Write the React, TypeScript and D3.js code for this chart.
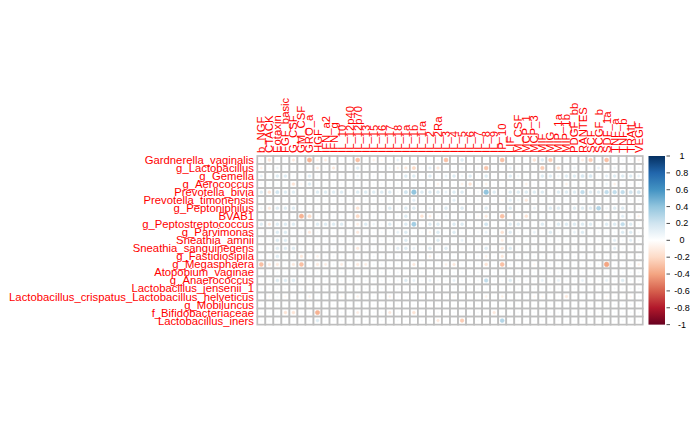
import React from "react";
import * as d3 from "d3";

// taxa (rows) and cytokines (columns)
const taxa = [
  "Gardnerella_vaginalis", "g_Lactobacillus", "g_Gemella", "g_Aerococcus",
  "Prevotella_bivia", "Prevotella_timonensis", "g_Peptoniphilus", "BVAB1",
  "g_Peptostreptococcus", "g_Parvimonas", "Sneathia_amnii", "Sneathia_sanguinegens",
  "g_Fastidiosipila", "g_Megasphaera", "Atopobium_vaginae", "g_Anaerococcus",
  "Lactobacillus_jensenii_1", "Lactobacillus_crispatus_Lactobacillus_helveticus",
  "g_Mobiluncus", "f_Bifidobacteriaceae", "Lactobacillus_iners",
];

const cytokines = [
  "b_NGF", "CTACK", "Eotaxin", "FGF_basic", "G_CSF", "GM_CSF", "GRO_a", "HGF",
  "IFN_a2", "IFN_g", "IL_10", "IL_12p40", "IL_12p70", "IL_13", "IL_15", "IL_16",
  "IL_17", "IL_18", "IL_1a", "IL_1b", "IL_1ra", "IL_2", "IL_2Ra", "IL_3",
  "IL_4", "IL_5", "IL_6", "IL_7", "IL_8", "IL_9", "IP_10", "LIF",
  "M_CSF", "MCP_1", "MCP_3", "MIF", "MIG", "MIP_1a", "MIP_1b", "PDGF_bb",
  "RANTES", "SCF", "SCGF_b", "SDF_1a", "TNF_a", "TNF_b", "TRAIL", "VEGF",
];

// correlation values, one row per taxon, 48 columns each
const corr: number[][] = [
  [0.05, -0.15, 0.05, 0.05, -0.12, 0.04, -0.35, -0.08, -0.1, 0.05, 0.05, 0.05,
   -0.3, 0.05, -0.08, -0.05, 0.05, 0.1, 0.05, 0.05, 0.05, 0.05, 0.05, -0.3,
   0.05, 0.15, 0.05, 0.05, 0.05, 0.05, -0.3, 0.05, 0.05, 0.05, -0.15, 0.15,
   -0.25, 0.05, 0.05, 0.05, -0.1, -0.25, 0.05, -0.3, 0.05, 0.05, 0.05, -0.08],
  [-0.08, 0.05, 0.08, 0.05, 0.05, 0.04, 0.05, -0.1, 0.05, -0.12, 0.05, 0.05,
   0.15, 0.05, 0.05, 0.05, 0.08, -0.08, -0.12, -0.2, 0.05, 0.12, -0.12, 0.05,
   0.05, 0.08, 0.05, 0.05, -0.28, 0.05, 0.05, 0.1, 0.05, 0.05, 0.05, -0.25,
   0.05, -0.15, 0.05, 0.08, 0.05, 0.05, 0.1, -0.05, 0.08, 0.05, 0.05, 0.05],
  [0.1, 0.05, 0.15, 0.15, 0.05, 0.05, 0.15, 0.05, 0.05, 0.05, 0.05, 0.05,
   0.08, 0.05, 0.05, 0.05, 0.05, 0.05, 0.15, 0.15, 0.05, 0.15, 0.05, 0.1,
   0.15, 0.08, 0.15, 0.05, 0.15, 0.05, 0.05, 0.15, 0.08, 0.05, 0.05, 0.15,
   0.15, 0.08, 0.15, 0.15, 0.18, 0.18, 0.05, 0.12, 0.15, 0.15, 0.15, 0.1],
  [0.05, 0.05, 0.05, 0.05, -0.15, -0.05, 0.15, 0.05, 0.05, 0.05, 0.05, 0.05,
   0.05, 0.05, 0.05, 0.05, 0.05, 0.05, 0.05, 0.05, 0.05, 0.05, -0.08, 0.05,
   0.05, -0.08, -0.15, 0.05, -0.08, 0.05, 0.05, 0.05, 0.05, -0.08, 0.05, 0.05,
   0.05, 0.05, -0.08, 0.05, 0.05, 0.05, 0.05, 0.08, -0.08, 0.05, 0.05, 0.05],
  [0.15, -0.15, 0.2, 0.15, 0.15, 0.05, 0.05, 0.15, 0.15, 0.15, 0.15, 0.05,
   0.15, 0.15, 0.15, 0.15, 0.15, 0.05, 0.2, 0.4, 0.15, 0.15, 0.15, 0.1,
   0.15, 0.15, 0.05, 0.05, 0.4, 0.15, 0.05, 0.15, 0.15, 0.15, 0.15, 0.15,
   0.05, 0.15, 0.15, 0.15, 0.25, 0.15, 0.15, 0.25, 0.25, 0.25, 0.2, 0.2],
  [0.05, 0.05, 0.05, 0.05, 0.05, 0.05, 0.05, 0.05, 0.05, 0.05, 0.05, 0.05,
   -0.05, 0.05, 0.05, 0.05, 0.05, 0.05, 0.05, 0.12, 0.05, 0.05, 0.05, 0.05,
   0.12, 0.05, 0.05, 0.05, 0.05, 0.05, -0.05, 0.12, 0.08, -0.12, 0.05, 0.05,
   0.05, 0.05, 0.05, 0.05, 0.05, 0.05, 0.05, 0.05, 0.05, 0.05, 0.05, 0.05],
  [0.08, -0.12, 0.15, 0.15, 0.15, 0.05, 0.05, 0.05, 0.05, 0.05, 0.05, 0.05,
   -0.15, 0.05, 0.05, 0.05, 0.15, 0.05, 0.15, 0.15, 0.05, 0.1, 0.05, 0.15,
   0.05, 0.15, 0.05, 0.05, 0.15, 0.05, 0.05, 0.15, 0.05, 0.05, 0.1, 0.05,
   0.15, 0.15, 0.05, 0.15, 0.15, 0.15, 0.3, 0.08, 0.15, 0.15, 0.05, 0.05],
  [0.05, 0.05, 0.05, 0.05, 0.05, -0.35, -0.2, 0.05, 0.05, 0.05, 0.05, 0.05,
   -0.2, 0.05, 0.05, 0.05, 0.05, 0.05, 0.15, 0.05, -0.15, -0.1, 0.05, 0.08,
   0.05, 0.05, 0.05, -0.05, -0.12, 0.05, -0.3, -0.05, 0.05, -0.15, 0.05, 0.05,
   0.05, 0.05, 0.05, 0.05, 0.05, 0.05, 0.05, -0.05, 0.05, 0.12, 0.05, -0.08],
  [0.15, -0.12, 0.15, 0.15, 0.15, 0.05, 0.05, 0.15, 0.15, 0.15, 0.15, 0.05,
   -0.1, 0.15, 0.08, 0.05, 0.15, 0.05, 0.15, 0.35, 0.05, 0.15, 0.15, 0.05,
   0.15, 0.15, 0.05, 0.05, 0.2, 0.05, 0.05, 0.15, 0.15, 0.05, 0.05, 0.15,
   0.05, 0.15, 0.15, 0.15, 0.15, 0.15, 0.05, 0.15, 0.15, 0.25, 0.15, 0.05],
  [0.05, 0.05, 0.15, 0.15, 0.05, 0.05, -0.12, 0.05, 0.05, 0.05, 0.05, 0.05,
   -0.12, 0.05, 0.05, 0.05, 0.05, 0.1, 0.15, 0.05, 0.05, -0.08, 0.15, 0.05,
   0.15, 0.05, 0.05, 0.05, 0.1, 0.05, -0.15, 0.15, 0.05, 0.05, 0.1, 0.05,
   0.15, 0.05, 0.05, 0.1, 0.15, 0.05, 0.05, 0.05, 0.05, 0.15, 0.15, 0.05],
  [0.05, 0.05, 0.15, 0.15, 0.05, 0.05, 0.05, 0.05, 0.05, 0.05, 0.05, 0.05,
   0.05, 0.05, 0.05, 0.05, 0.05, 0.05, 0.15, 0.05, 0.05, 0.05, 0.15, 0.05,
   0.05, 0.1, 0.05, 0.05, 0.05, 0.05, -0.1, 0.05, 0.05, 0.05, 0.05, 0.05,
   0.05, 0.05, 0.05, 0.05, 0.05, 0.05, 0.05, 0.05, 0.12, 0.05, 0.12, 0.05],
  [0.05, 0.05, 0.15, 0.15, 0.15, 0.05, 0.05, 0.05, 0.05, 0.05, 0.05, 0.05,
   -0.12, 0.05, 0.05, 0.05, 0.05, 0.12, 0.15, 0.1, 0.05, 0.15, 0.05, 0.15,
   0.05, 0.05, 0.05, 0.05, 0.15, 0.05, -0.12, 0.15, 0.05, 0.05, 0.05, 0.05,
   0.05, 0.05, 0.05, 0.05, 0.05, 0.05, 0.05, 0.05, 0.12, 0.05, 0.05, 0.05],
  [0.05, 0.05, 0.15, 0.05, 0.05, -0.12, 0.05, -0.08, 0.05, 0.05, 0.05, 0.05,
   0.05, 0.05, 0.05, 0.05, 0.05, 0.05, 0.05, 0.05, 0.05, -0.08, 0.05, 0.05,
   0.05, 0.05, 0.05, 0.05, -0.08, 0.05, -0.12, 0.05, 0.05, 0.05, 0.05, 0.05,
   0.05, 0.05, 0.05, 0.05, 0.05, 0.05, 0.05, 0.05, 0.05, 0.05, 0.05, 0.05],
  [-0.3, -0.12, -0.12, 0.05, -0.12, -0.3, 0.05, -0.12, -0.1, 0.05, -0.1, 0.05,
   -0.12, -0.1, 0.05, 0.05, 0.05, 0.05, 0.05, -0.12, 0.05, 0.05, 0.05, -0.08,
   -0.12, 0.05, 0.05, 0.05, -0.15, 0.05, -0.3, 0.05, 0.05, 0.05, -0.05, 0.05,
   0.05, 0.05, 0.05, 0.05, 0.05, 0.05, 0.05, -0.4, 0.05, 0.05, 0.05, -0.08],
  [0.05, 0.05, 0.05, 0.05, 0.05, 0.05, 0.05, 0.05, 0.05, 0.05, 0.05, 0.05,
   0.05, 0.05, 0.05, 0.05, 0.05, 0.05, 0.05, 0.05, 0.05, 0.05, 0.05, 0.05,
   0.05, 0.05, 0.05, 0.05, 0.05, 0.05, 0.05, 0.05, 0.05, 0.05, 0.05, 0.05,
   0.05, 0.05, 0.05, 0.05, 0.05, 0.05, 0.05, 0.05, 0.05, 0.05, 0.05, 0.05],
  [0.05, 0.05, 0.15, 0.15, 0.15, 0.05, 0.05, 0.05, 0.05, 0.05, 0.05, 0.05,
   0.05, 0.05, 0.05, 0.05, 0.05, 0.05, 0.15, 0.1, 0.05, 0.1, 0.05, 0.05,
   0.1, 0.05, 0.05, 0.05, 0.25, 0.05, 0.05, 0.15, 0.05, 0.05, 0.05, 0.1,
   0.05, 0.1, 0.05, 0.05, 0.1, 0.05, 0.05, 0.1, 0.05, 0.15, 0.05, 0.05],
  [0.05, 0.05, 0.05, 0.05, 0.05, 0.05, 0.05, 0.05, 0.05, 0.05, 0.05, 0.05,
   0.05, 0.05, 0.05, 0.05, 0.05, 0.05, 0.05, 0.05, 0.05, 0.05, 0.05, 0.05,
   0.05, 0.05, 0.05, 0.05, 0.05, 0.05, 0.05, 0.05, 0.05, 0.05, 0.05, 0.05,
   0.05, 0.05, 0.05, 0.05, 0.05, 0.05, 0.05, 0.05, 0.05, 0.05, 0.05, 0.05],
  [0.04, -0.05, 0.05, -0.05, 0.04, 0.04, -0.08, 0.04, 0.04, 0.04, -0.05, 0.04,
   -0.08, 0.04, 0.04, 0.04, -0.08, 0.04, 0.04, 0.04, -0.05, 0.04, 0.04, 0.04,
   -0.05, 0.04, 0.04, 0.04, -0.08, 0.04, -0.08, 0.04, 0.04, 0.04, -0.05, -0.05,
   0.04, 0.04, -0.12, 0.04, 0.04, 0.04, 0.04, -0.05, 0.04, 0.04, -0.05, 0.04],
  [0.04, 0.04, 0.05, 0.04, 0.04, 0.04, -0.05, 0.04, 0.04, 0.04, 0.04, 0.04,
   0.04, 0.04, 0.04, 0.04, 0.04, 0.04, 0.04, 0.04, 0.04, 0.04, 0.04, 0.04,
   0.04, 0.04, 0.04, 0.04, 0.04, 0.04, 0.04, 0.04, 0.04, 0.04, 0.04, 0.04,
   0.04, 0.04, 0.04, 0.04, 0.04, 0.04, 0.04, 0.04, 0.05, 0.05, 0.05, 0.04],
  [0.04, 0.04, 0.04, -0.15, -0.15, 0.04, 0.04, -0.35, 0.04, 0.04, 0.04, 0.04,
   -0.1, 0.04, 0.04, 0.04, -0.12, 0.04, 0.04, -0.15, 0.04, 0.04, 0.04, 0.04,
   0.04, 0.04, 0.04, 0.04, 0.04, -0.12, 0.04, 0.04, 0.04, 0.04, 0.04, 0.04,
   0.04, 0.04, 0.04, 0.04, 0.04, 0.04, 0.04, 0.04, 0.04, 0.04, 0.04, 0.04],
  [0.04, 0.04, 0.04, 0.04, 0.04, 0.04, 0.04, 0.15, 0.04, 0.04, 0.04, 0.04,
   0.04, 0.04, 0.04, 0.04, 0.04, 0.04, 0.04, 0.04, 0.04, 0.04, -0.12, 0.04,
   0.04, -0.25, 0.04, 0.04, 0.04, 0.04, 0.3, 0.04, 0.04, 0.04, 0.04, 0.04,
   0.04, 0.04, 0.04, 0.04, 0.04, 0.04, 0.04, 0.04, 0.04, 0.04, 0.04, 0.04],
];

const legendTicks = [1, 0.8, 0.6, 0.4, 0.2, 0, -0.2, -0.4, -0.6, -0.8, -1];

const palette = ["#67001F", "#B2182B", "#D6604D", "#F4A582", "#FDDBC7", "#FFFFFF",
  "#D1E5F0", "#92C5DE", "#4393C3", "#2166AC", "#053061"];

const App: React.FC = () => {
  const width = 700;
  const height = 432;
  const cell = 8.03;
  const left = 257.3;
  const top = 156;
  const right = left + cell * cytokines.length;
  const bottom = top + cell * taxa.length;

  const x = d3.scaleBand<string>().domain(cytokines).range([left, right]);
  const y = d3.scaleBand<string>().domain(taxa).range([top, bottom]);
  const color = d3.scaleLinear<string>()
    .domain(d3.range(11).map(i => -1 + i * 0.2))
    .range(palette);

  const barX = 648.5;
  const barW = 16.5;
  const yLeg = d3.scaleLinear().domain([-1, 1]).range([bottom, top]);
  const font = "'Liberation Sans', Arial, sans-serif";

  return (
    <svg width={width} height={height} style={{ position: "absolute", left: 0, top: 0 }}>
      <rect width={width} height={height} fill="#fff" />

      {/* cells */}
      <g>
        {taxa.map(t => cytokines.map(c => (
          <rect key={t + c} x={x(c)} y={y(t)} width={cell} height={cell}
            fill="#fff" stroke="#BEBEBE" strokeWidth={1.7} />
        )))}
      </g>

      {/* circles */}
      <g>
        {corr.map((row, i) => row.map((v, j) => {
          const r = 0.45 * Math.sqrt(Math.abs(v)) * cell;
          return (
            <circle key={i + "-" + j}
              cx={(x(cytokines[j]) as number) + cell / 2}
              cy={(y(taxa[i]) as number) + cell / 2}
              r={r} fill={color(v)} stroke={color(v)} strokeWidth={0.6} />
          );
        }))}
      </g>

      {/* row labels */}
      <g fontFamily={font} fontSize={11.3} fill="#FF0000" textAnchor="end">
        {taxa.map(t => (
          <text key={t} x={254} y={(y(t) as number) + cell / 2} dominantBaseline="central">{t}</text>
        ))}
      </g>

      {/* column labels */}
      <g fontFamily={font} fontSize={11.3} fill="#FF0000">
        {cytokines.map(c => {
          const cx = (x(c) as number) + cell / 2;
          return (
            <text key={c} transform={`translate(${cx},153) rotate(-90)`} dominantBaseline="central">{c}</text>
          );
        })}
      </g>

      {/* colour legend */}
      <defs>
        <linearGradient id="corrGrad" x1="0" y1="1" x2="0" y2="0">
          {palette.map((p, i) => (
            <stop key={i} offset={`${i * 10}%`} stopColor={p} />
          ))}
        </linearGradient>
      </defs>
      <rect x={barX} y={top} width={barW} height={bottom - top} fill="url(#corrGrad)" />
      <g fontFamily={font} fontSize={9} fill="#000" textAnchor="middle">
        {legendTicks.map(t => (
          <g key={t}>
            <line x1={barX + barW + 1.5} x2={barX + barW + 5} y1={yLeg(t)} y2={yLeg(t)} stroke="#000" strokeWidth={0.7} />
            <text x={682} y={yLeg(t)} dominantBaseline="central">{t}</text>
          </g>
        ))}
      </g>
    </svg>
  );
};

export default App;
